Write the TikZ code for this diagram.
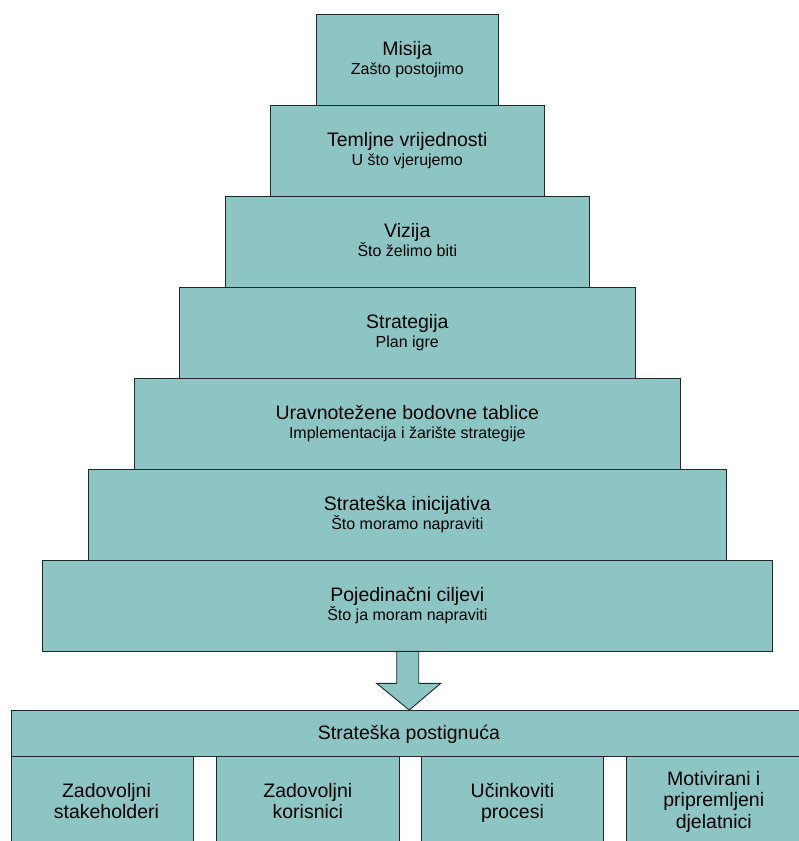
\documentclass[tikz,border=0pt]{standalone}
\usepackage{fontspec}
\setmainfont{Liberation Sans}
\usetikzlibrary{calc}
\definecolor{tealfill}{RGB}{141,197,197}
\definecolor{edgecol}{RGB}{30,40,40}
\tikzset{
  tier/.style={draw=edgecol, fill=tealfill, line width=0.9pt, minimum height=91pt, inner sep=0pt, align=center, anchor=north},
  outbox/.style={draw=edgecol, fill=tealfill, line width=0.9pt, inner sep=0pt, align=center},
  ttl/.style={font=\fontsize{19.5}{21.5}\selectfont, inner sep=0pt, anchor=base, align=center},
  sub/.style={font=\fontsize{16}{19}\selectfont, inner sep=0pt, anchor=base},
}
\begin{document}
\begin{tikzpicture}[x=1pt,y=-1pt]
\useasboundingbox (0,0) rectangle (799,841);
% pyramid tiers
\node[tier, minimum width=182.7pt] (t1) at (407.3,13.5) {};
\node[tier, minimum width=273.5pt] (t2) at (407.3,104.5) {};
\node[tier, minimum width=364.5pt] (t3) at (407.3,195.5) {};
\node[tier, minimum width=455.5pt] (t4) at (407.3,286.5) {};
\node[tier, minimum width=546.5pt] (t5) at (407.3,377.5) {};
\node[tier, minimum width=638pt] (t6) at (407.3,468.5) {};
\node[tier, minimum width=729.3pt] (t7) at (407.3,559.5) {};
\node[ttl] (t1a) at ($(t1.center)+(0,-3.5)$) {Misija};
\node[sub] (t1b) at ($(t1.center)+(0,15)$) {Zašto postojimo};
\node[ttl] (t2a) at ($(t2.center)+(0,-3.5)$) {Temljne vrijednosti};
\node[sub] (t2b) at ($(t2.center)+(0,15)$) {U što vjerujemo};
\node[ttl] (t3a) at ($(t3.center)+(0,-3.5)$) {Vizija};
\node[sub] (t3b) at ($(t3.center)+(0,15)$) {Što želimo biti};
\node[ttl] (t4a) at ($(t4.center)+(0,-3.5)$) {Strategija};
\node[sub] (t4b) at ($(t4.center)+(0,15)$) {Plan igre};
\node[ttl] (t5a) at ($(t5.center)+(0,-3.5)$) {Uravnotežene bodovne tablice};
\node[sub] (t5b) at ($(t5.center)+(0,15)$) {Implementacija i žarište strategije};
\node[ttl] (t6a) at ($(t6.center)+(0,-3.5)$) {Strateška inicijativa};
\node[sub] (t6b) at ($(t6.center)+(0,15)$) {Što moramo napraviti};
\node[ttl] (t7a) at ($(t7.center)+(0,-3.5)$) {Pojedinačni ciljevi};
\node[sub] (t7b) at ($(t7.center)+(0,15)$) {Što ja moram napraviti};
% block arrow
\coordinate (tip) at (409.3,710);
\draw[draw=edgecol, fill=tealfill, line width=0.9pt, line join=miter]
  ($(t7.south)+(-10.6,0)$) -- ($(t7.south)+(11.4,0)$) -- ($(t7.south)+(11.4,32)$) -- ($(t7.south)+(33.4,32)$)
  -- (tip) -- ($(t7.south)+(-30.6,32)$) -- ($(t7.south)+(-10.6,32)$) -- cycle;
% results header
\node[outbox, anchor=north west, minimum width=800pt, minimum height=46pt] (hdr) at (10.7,710) {};
\node[ttl] (hdrtext) at (409,739) {Strateška postignuća};
% result boxes
\node[outbox, anchor=north west, minimum width=182.6pt, minimum height=92pt] (r1) at (10.7,756) {};
\node[outbox, anchor=north west, minimum width=182.7pt, minimum height=92pt] (r2) at (216,756) {};
\node[outbox, anchor=north west, minimum width=182.6pt, minimum height=92pt] (r3) at (420.7,756) {};
\node[outbox, anchor=north west, minimum width=182.6pt, minimum height=92pt] (r4) at (626,756) {};
\node[ttl] (r1t) at ($(r1.north)+(4,62.5)$) {Zadovoljni\\stakeholderi};
\node[ttl] (r2t) at ($(r2.north)+(0,62.5)$) {Zadovoljni\\korisnici};
\node[ttl] (r3t) at ($(r3.north)+(0,62.5)$) {Učinkoviti\\procesi};
\node[ttl] (r4t) at ($(r4.north)+(-4,72)$) {Motivirani i\\pripremljeni\\djelatnici};
\end{tikzpicture}
\end{document}
